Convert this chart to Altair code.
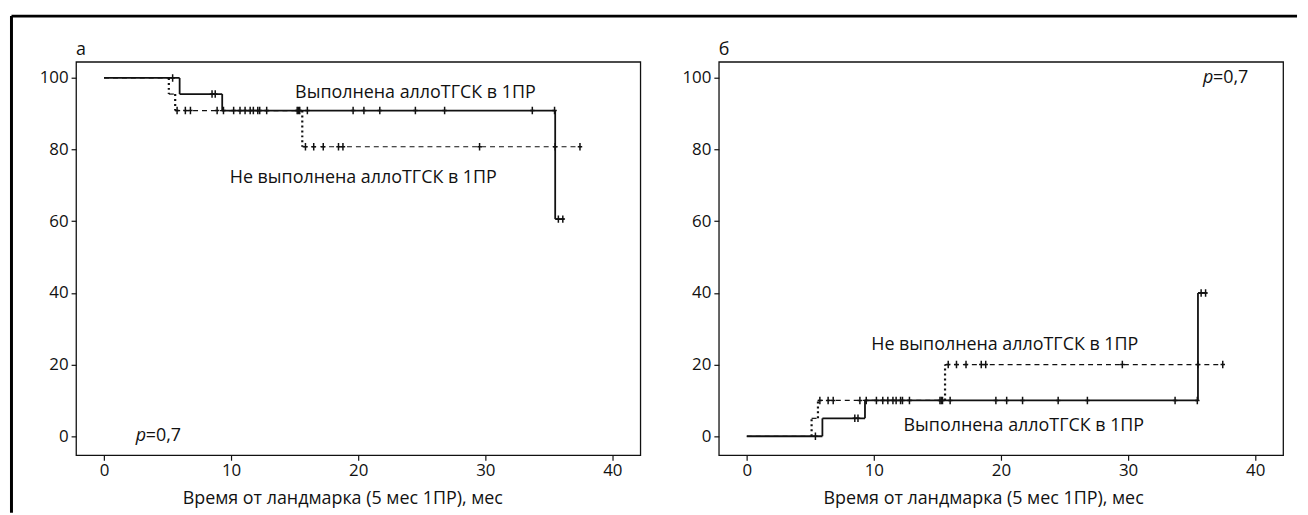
import altair as alt
import pandas as pd

FONT = "Open Sans"
INK = "#111111"

# ---- data (months, %) ----
# step times shared by both panels
yes_step_t = [0, 5.95, 9.3, 35.5]      # "Выполнена аллоТГСК в 1ПР" (solid)
yes_end = 36.2
no_step_t = [0, 5.1, 5.6, 15.6]        # "Не выполнена аллоТГСК в 1ПР" (dashed)
no_end = 37.5

# censored observations (months)
yes_cens = [5.4, 8.5, 8.75, 9.4, 10.2, 10.7, 11.1, 11.5, 11.75, 12.1, 12.25, 12.8,
            15.2, 15.3, 15.4, 16.0, 19.6, 20.45, 21.7, 24.5, 26.8, 33.7, 35.45,
            35.75, 36.1]
no_cens = [5.75, 6.4, 6.8, 8.9, 15.85, 16.5, 17.25, 18.45, 18.8, 29.55, 35.5, 37.45]

# panel а levels
a_yes_s = [100, 95.5, 90.9, 60.6]
a_no_s = [100, 95.5, 90.9, 80.8]
# panel б levels
b_yes_s = [0, 5.0, 10.0, 40.0]
b_no_s = [0, 5.0, 10.0, 20.0]

x_ticks = [0, 10, 20, 30, 40]
y_ticks = [0, 20, 40, 60, 80, 100]
x_title = "Время от ландмарка (5 мес 1ПР), мес"
lab_yes = "Выполнена аллоТГСК в 1ПР"
lab_no = "Не выполнена аллоТГСК в 1ПР"

W, H = 568, 396
XS = alt.Scale(domain=[-2.2, 42.2], nice=False, zero=False)
YS = alt.Scale(domain=[-5.3, 104.5], nice=False, zero=False)


def horiz(t, s, end):
    xs2 = t[1:] + [end]
    return pd.DataFrame({"x": t, "x2": xs2, "y": s})


def vert(t, s):
    return pd.DataFrame({"x": t[1:], "y": s[:-1], "y2": s[1:]})


def cens(times, t, s):
    lv = []
    for c in times:
        j = max(i for i in range(len(t)) if t[i] <= c)
        lv.append(s[j])
    return pd.DataFrame({"x": times, "y": lv})


def X():
    return alt.X("x:Q", scale=XS)


def Y():
    return alt.Y("y:Q", scale=YS)


def text_at(txt, xv, yv, size=18, style="normal", align="center", dx=0):
    return alt.Chart(pd.DataFrame({"label": [txt]})).mark_text(
        font=FONT, fontSize=size, fontStyle=style, align=align, baseline="middle",
        color=INK, dx=dx
    ).encode(x=alt.datum(xv, scale=XS), y=alt.datum(yv, scale=YS), text="label:N")


def panel(letter, yes_s, no_s, labels, pval, title_x, border=False):
    axes = alt.Chart(pd.DataFrame({"x": [0], "y": [0]})).mark_point(opacity=0).encode(
        x=alt.X("x:Q", scale=XS, title=x_title,
                axis=alt.Axis(values=x_ticks, titleX=title_x, titleY=44,
                              titleBaseline="middle", titleAlign="center",
                              labelPadding=2, tickSize=5)),
        y=alt.Y("y:Q", scale=YS, title="",
                axis=alt.Axis(values=y_ticks, labelPadding=3, tickSize=5)),
    )
    no_h = alt.Chart(horiz(no_step_t, no_s, no_end)).mark_rule(
        color=INK, strokeWidth=1.2, strokeDash=[5, 4]).encode(x=X(), x2="x2:Q", y=Y())
    no_v = alt.Chart(vert(no_step_t, no_s)).mark_rule(
        color=INK, strokeWidth=2.2, strokeDash=[2, 3]).encode(x=X(), y=Y(), y2="y2:Q")
    yes_h = alt.Chart(horiz(yes_step_t, yes_s, yes_end)).mark_rule(
        color=INK, strokeWidth=1.8).encode(x=X(), x2="x2:Q", y=Y())
    yes_v = alt.Chart(vert(yes_step_t, yes_s)).mark_rule(
        color=INK, strokeWidth=1.8).encode(x=X(), y=Y(), y2="y2:Q")
    plus = "M0,-1L0,1M-0.6,0L0.6,0"
    c_no = alt.Chart(cens(no_cens, no_step_t, no_s)).mark_point(
        shape=plus, size=56, filled=False, color=INK, strokeWidth=1.5, opacity=1
    ).encode(x=X(), y=Y())
    c_yes = alt.Chart(cens(yes_cens, yes_step_t, yes_s)).mark_point(
        shape=plus, size=56, filled=False, color=INK, strokeWidth=1.5, opacity=1
    ).encode(x=X(), y=Y())
    layers = [axes, no_h, no_v, yes_h, yes_v, c_no, c_yes]
    for (txt, xv, yv) in labels:
        layers.append(text_at(txt, xv, yv))
    px, py = pval
    layers.append(text_at("p", px, py, style="italic", align="left"))
    layers.append(text_at("=0,7", px, py, align="left", dx=10))
    # panel letter above the frame
    layers.append(alt.Chart(pd.DataFrame({"label": [letter]})).mark_text(
        font=FONT, fontSize=18, align="left", baseline="alphabetic", color=INK
    ).encode(x=alt.value(0), y=alt.value(-7), text="label:N"))
    if border:
        one = pd.DataFrame({"k": [0]})
        layers.append(alt.Chart(one).mark_rule(color="black", strokeWidth=3).encode(
            x=alt.value(-65), x2=alt.value(1229), y=alt.value(-46)))
        layers.append(alt.Chart(one).mark_rule(color="black", strokeWidth=3).encode(
            x=alt.value(-65), y=alt.value(-46), y2=alt.value(454)))
    return alt.layer(*layers).properties(width=W, height=H)


pa = panel("а", a_yes_s, a_no_s,
           [(lab_yes, 24.5, 95.9), (lab_no, 20.4, 72.1)], (2.5, 0), 268, border=True)
pb = panel("б", b_yes_s, b_no_s,
           [(lab_no, 20.3, 25.5), (lab_yes, 21.8, 2.8)], (35.9, 100), 266)

chart = alt.hconcat(pa, pb, spacing=79, bounds="flush").properties(
    padding={"left": 0.5, "top": 3.5, "right": 0, "bottom": 0},
    autosize=alt.AutoSizeParams(type="pad"),
).configure_view(stroke=INK, strokeWidth=1.3).configure_axis(
    labelFont=FONT, labelFontSize=17, labelColor=INK,
    titleFont=FONT, titleFontSize=18, titleFontWeight="normal", titleColor=INK,
    tickColor=INK, tickWidth=1.2, domain=False, grid=False,
)

chart.save("out.html", embed_options={"renderer": "svg", "actions": False})
